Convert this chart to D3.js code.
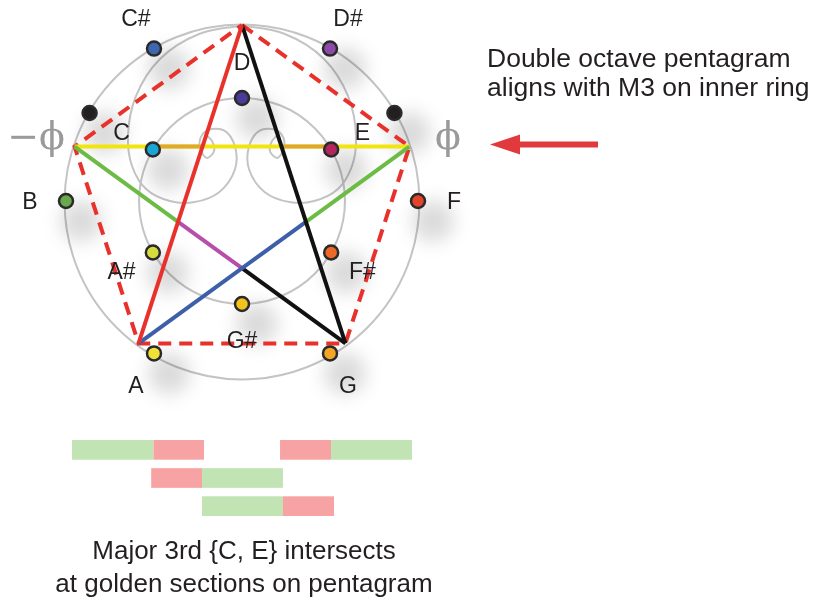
<!DOCTYPE html>
<html>
<head>
<meta charset="utf-8">
<script src="https://cdn.jsdelivr.net/npm/d3@7/dist/d3.min.js"></script>
<style>
  body { margin: 0; background: #fff; }
  svg { display: block; }
</style>
</head>
<body>
<div id="chart"></div>
<script>
// chromatic notes, placed clockwise 30 degrees apart, alternating rings
const noteNames  = ["C", "C#", "D", "D#", "E", "F", "F#", "G", "G#", "A", "A#", "B"];
const noteAngles = [-60, -30, 0, 30, 60, 90, 120, 150, 180, -150, -120, -90];
const noteRings  = ["inner", "outer", "inner", "outer", "inner", "outer", "inner", "outer", "inner", "outer", "inner", "outer"];
const noteColors = ["#19a6d6", "#3e67b1", "#4b3a97", "#8e4aa8", "#b3265c", "#e5432a",
                    "#ec6826", "#f3a526", "#f4c21c", "#f1e23a", "#d5dc3e", "#69a94c"];
const markerAngles = [-60, 60];

// pentagram vertices (T, R, BR, BL, L) and golden ratio labels
const pentagramAngles = [0, 72, 144, 216, 288];
const phiAngles = [288, 72];
const phiTexts  = ["\u2212\u03D5", "\u03D5"];

// guide spiral (left arm, unit coords; right arm is mirrored)
const spiralX = [0, -0.24, -0.466, -0.602, -0.648, -0.625, -0.545, -0.41, -0.27, -0.13, -0.04, -0.04,
                 -0.1, -0.19, -0.235, -0.235, -0.2, -0.16, -0.17, -0.205];
const spiralY = [-0.994, -0.95, -0.807, -0.597, -0.369, -0.199, -0.068, 0, 0.006, -0.05, -0.18, -0.31,
                 -0.4, -0.405, -0.36, -0.29, -0.245, -0.28, -0.34, -0.375];

// golden section bars (unit = one chord length)
const barRows  = [0, 0, 0, 0, 1, 1, 2, 2];
const barStart = [0, 0.618, 1.576, 1.962, 0.6, 0.985, 0.985, 1.598];
const barEnd   = [0.618, 1.0, 1.962, 2.576, 0.985, 1.598, 1.598, 1.985];
const barKind  = ["long", "short", "short", "long", "short", "long", "long", "short"];

const width = 815, height = 598;
const cx = 242, cy = 201;
const ringR = { outer: 1, inner: 0.585 };

const svg = d3.select("#chart").append("svg")
    .attr("width", width)
    .attr("height", height)
    .style("font-family", "'Liberation Sans', Arial, sans-serif");

const defs = svg.append("defs");
defs.append("filter")
    .attr("id", "soft")
    .attr("x", "-100%").attr("y", "-100%")
    .attr("width", "300%").attr("height", "300%")
    .append("feGaussianBlur")
    .attr("stdDeviation", 9);

const r = d3.scaleLinear().domain([0, 1]).range([0, 176]);
const ux = d3.scaleLinear().domain([-1, 1]).range([cx - 176, cx + 176]);
const uy = d3.scaleLinear().domain([-1, 1]).range([cy - 176, cy + 176]);

const polar = function (deg, rad) {
    const a = deg * Math.PI / 180;
    return [cx + r(rad) * Math.sin(a), cy - r(rad) * Math.cos(a)];
};

const notes = noteNames.map((n, i) => ({
    name: n,
    angle: noteAngles[i],
    ring: noteRings[i],
    color: noteColors[i],
    pos: polar(noteAngles[i], ringR[noteRings[i]]),
    label: polar(noteAngles[i], noteRings[i] === "outer" ? 1.205 : 0.79)
}));

// grey guide rings and spirals
const guides = svg.append("g")
    .attr("fill", "none")
    .attr("stroke", "#c4c4c4")
    .attr("stroke-width", 2);

guides.append("circle").attr("cx", cx).attr("cy", cy + 1).attr("r", r(1.008));
guides.append("circle").attr("cx", cx).attr("cy", cy).attr("r", r(0.585));

const spiralLine = d3.line().curve(d3.curveCatmullRom.alpha(0.5));
const leftArm = spiralX.map((x, i) => [ux(x), uy(spiralY[i])]);
const rightArm = spiralX.map((x, i) => [ux(-x), uy(spiralY[i])]);
guides.selectAll("path.arm")
    .data([leftArm, rightArm])
    .enter().append("path")
    .attr("class", "arm")
    .attr("d", spiralLine);

// soft shadows under the dots
const allDots = notes.map(d => d.pos).concat(markerAngles.map(a => polar(a, 1)));
svg.append("g")
    .attr("filter", "url(#soft)")
    .selectAll("circle")
    .data(allDots)
    .enter().append("circle")
    .attr("cx", d => d[0] + 15)
    .attr("cy", d => d[1] + 20)
    .attr("r", 21)
    .attr("fill", "#000")
    .attr("opacity", 0.14);

// pentagram
const V = pentagramAngles.map(a => polar(a, 1));
const T = V[0], R = V[1], BR = V[2], BL = V[3], L = V[4];

const intersect = function (p1, p2, p3, p4) {
    const d = (p1[0] - p2[0]) * (p3[1] - p4[1]) - (p1[1] - p2[1]) * (p3[0] - p4[0]);
    const t = ((p1[0] - p3[0]) * (p3[1] - p4[1]) - (p1[1] - p3[1]) * (p3[0] - p4[0])) / d;
    return [p1[0] + t * (p2[0] - p1[0]), p1[1] + t * (p2[1] - p1[1])];
};

// dashed pentagon
svg.append("path")
    .attr("d", d3.line()(V.concat([V[0]])))
    .attr("fill", "none")
    .attr("stroke", "#e8312b")
    .attr("stroke-width", 4)
    .attr("stroke-dasharray", "13,8");

const xRed = intersect(L, BR, T, BL);
const xBlue = intersect(L, BR, BL, R);
const xBlack = intersect(BL, R, T, BR);
const yRed = intersect(L, R, T, BL);
const yBlack = intersect(L, R, T, BR);
const cPos = notes[0].pos, ePos = notes[4].pos;

const segments = [
    [L, R, "#f2e40f"],
    [[cPos[0], L[1]], yRed, "#dea92e"],
    [yBlack, [ePos[0], R[1]], "#dea92e"],
    [L, xRed, "#6bbb45"],
    [xRed, xBlue, "#b54fa9"],
    [xBlue, BR, "#111111"],
    [BL, xBlack, "#3d5fa9"],
    [xBlack, R, "#6bbb45"],
    [T, BR, "#111111"],
    [T, BL, "#e8312b"]
];

svg.append("g")
    .selectAll("line")
    .data(segments)
    .enter().append("line")
    .attr("x1", d => d[0][0]).attr("y1", d => d[0][1])
    .attr("x2", d => d[1][0]).attr("y2", d => d[1][1])
    .attr("stroke", d => d[2])
    .attr("stroke-width", 4);

// note dots
const dotG = svg.append("g")
    .attr("stroke", "#2a2a2a")
    .attr("stroke-width", 2.5);

dotG.selectAll("circle.note")
    .data(notes)
    .enter().append("circle")
    .attr("class", "note")
    .attr("cx", d => d.pos[0])
    .attr("cy", d => d.pos[1])
    .attr("r", 7)
    .attr("fill", d => d.color);

dotG.selectAll("circle.marker")
    .data(markerAngles)
    .enter().append("circle")
    .attr("class", "marker")
    .attr("cx", d => polar(d, 1)[0])
    .attr("cy", d => polar(d, 1)[1])
    .attr("r", 7)
    .attr("fill", "#231f20");

svg.append("g")
    .selectAll("text")
    .data(notes)
    .enter().append("text")
    .attr("x", d => d.label[0])
    .attr("y", d => d.label[1])
    .attr("dy", "0.36em")
    .attr("text-anchor", "middle")
    .attr("font-size", 23)
    .attr("fill", "#231f20")
    .text(d => d.name);

svg.append("g")
    .selectAll("text")
    .data(phiAngles)
    .enter().append("text")
    .attr("x", d => polar(d, 1.23)[0])
    .attr("y", d => polar(d, 1.23)[1])
    .attr("dy", "0.38em")
    .attr("text-anchor", "middle")
    .attr("font-family", "'DejaVu Serif', serif")
    .attr("font-size", 38)
    .attr("fill", "#9a9a9a")
    .text((d, i) => phiTexts[i]);

// annotation on the right
const note = svg.append("text")
    .attr("x", 487)
    .attr("y", 67)
    .attr("font-size", 26.5)
    .attr("fill", "#231f20");
note.append("tspan").attr("x", 487).text("Double octave pentagram");
note.append("tspan").attr("x", 487).attr("dy", 29).text("aligns with M3 on inner ring");

svg.append("line")
    .attr("x1", 516).attr("y1", 144.5)
    .attr("x2", 598).attr("y2", 144.5)
    .attr("stroke", "#e03a3c")
    .attr("stroke-width", 6);
svg.append("path")
    .attr("d", d3.line()([[490, 144.5], [520, 134.5], [520, 154.5]]) + "Z")
    .attr("fill", "#e03a3c");

// golden section bars
const bx = d3.scaleLinear().domain([0, 1]).range([72, 204]);
const by = d3.scaleBand().domain([0, 1, 2]).range([440, 516]).paddingInner(0.3);

svg.append("g")
    .selectAll("rect")
    .data(barRows.map((row, i) => ({ row: row, s: barStart[i], e: barEnd[i], k: barKind[i] })))
    .enter().append("rect")
    .attr("x", d => bx(d.s))
    .attr("y", d => by(d.row))
    .attr("width", d => bx(d.e) - bx(d.s))
    .attr("height", by.bandwidth())
    .attr("fill", d => d.k === "long" ? "#c2e3b3" : "#f7a3a4");

const caption = svg.append("text")
    .attr("x", 244)
    .attr("y", 559)
    .attr("text-anchor", "middle")
    .attr("font-size", 26)
    .attr("fill", "#231f20");
caption.append("tspan").attr("x", 244).text("Major 3rd {C, E} intersects");
caption.append("tspan").attr("x", 244).attr("dy", 33).text("at golden sections on pentagram");
</script>
</body>
</html>
